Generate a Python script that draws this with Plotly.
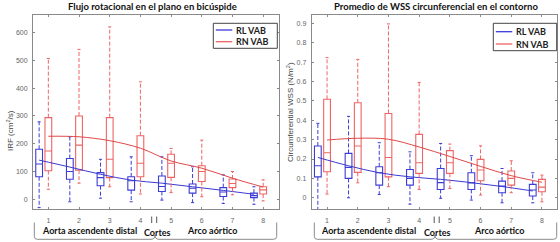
import plotly.graph_objects as go

W, H = 560, 242
slices = [1, 2, 3, 4, 5, 6, 7, 8]
tick_text = ["1", "2", "3", "4", "5", "6", "7", "8"]

# ---- Left panel: IRF (cm^2/s)
irf_rl_lo = [-30, -9, 4, -9, -3, -12, -15, -18]
irf_rl_q1 = [81, 72, 49, 33, 28, 22, 10, 6]
irf_rl_med = [127, 100, 78, 67, 46, 40, 26, 13]
irf_rl_q3 = [180, 147, 96, 81, 84, 55, 42, 22]
irf_rl_hi = [279, 225, 144, 153, 153, 117, 88, 45]
irf_rn_lo = [36, 58, 45, 19, 24, 9, 16, -6]
irf_rn_q1 = [103, 105, 78, 81, 79, 64, 42, 19]
irf_rn_med = [174, 195, 144, 130, 130, 100, 57, 34]
irf_rn_q3 = [294, 300, 294, 229, 162, 121, 73, 45]
irf_rn_hi = [507, 540, 621, 423, 183, 213, 100, 70]
irf_rl_fit = [141, 116, 90, 69, 58, 45, 32, 18]
irf_rn_fit = [227, 225, 211, 184, 138, 112, 76, 44]
irf_ticks = [0, 100, 200, 300, 400, 500, 600]

# ---- Right panel: circumferential WSS (N/m^2)
wss_rl_lo = [-0.07, 0.0, 0.017, -0.033, -0.003, -0.012, -0.026, -0.026]
wss_rl_q1 = [0.108, 0.100, 0.065, 0.065, 0.043, 0.043, 0.026, 0.009]
wss_rl_med = [0.165, 0.157, 0.129, 0.100, 0.078, 0.077, 0.060, 0.040]
wss_rl_q3 = [0.267, 0.229, 0.160, 0.146, 0.151, 0.129, 0.086, 0.069]
wss_rl_hi = [0.384, 0.420, 0.284, 0.237, 0.280, 0.217, 0.151, 0.129]
wss_rn_lo = [0.019, 0.077, 0.057, 0.043, 0.048, 0.014, 0.026, -0.021]
wss_rn_q1 = [0.134, 0.131, 0.108, 0.126, 0.126, 0.088, 0.065, 0.031]
wss_rn_med = [0.232, 0.267, 0.208, 0.181, 0.181, 0.143, 0.100, 0.055]
wss_rn_q3 = [0.508, 0.490, 0.435, 0.327, 0.243, 0.198, 0.138, 0.095]
wss_rn_hi = [0.723, 0.714, 0.897, 0.595, 0.277, 0.268, 0.191, 0.117]
wss_rl_fit = [0.208, 0.165, 0.129, 0.108, 0.095, 0.078, 0.058, 0.035]
wss_rn_fit = [0.298, 0.307, 0.302, 0.262, 0.213, 0.162, 0.114, 0.080]
wss_ticks = [0, 0.1, 0.2, 0.3, 0.4, 0.5, 0.6, 0.7, 0.8, 0.9]
wss_tick_text = ["0", "0.1", "0.2", "0.3", "0.4", "0.5", "0.6", "0.7", "0.8", "0.9"]

titles = ["Flujo rotacional en el plano en bicúspide",
          "Promedio de WSS circunferencial en el contorno"]
ylabels = ["IRF (cm<sup>2</sup>/s)", "Circumferential WSS (N/m<sup>2</sup>)"]
series_names = ["RL VAB", "RN VAB"]

BLUE = "#3c3cd6"
RED = "#ee6464"
RL_OFF, RN_OFF = -0.3, 0.0
BOX_W = 0.22
CAP = 0.05


def px(x):
    return x / W


def py(y):
    return 1 - y / H


fig = go.Figure()


def add_group(xa, ya, off, lo, q1, med, q3, hi, fit, color, fitcolor):
    pos = [s + off for s in slices]
    fig.add_trace(go.Box(x=pos, q1=q1, median=med, q3=q3, lowerfence=q1, upperfence=q3,
                         width=BOX_W, whiskerwidth=0, line=dict(color=color, width=1.1),
                         fillcolor="rgba(0,0,0,0)", boxpoints=False, showlegend=False,
                         xaxis=xa, yaxis=ya, hoverinfo="skip"))
    wx, wy, cx, cy = [], [], [], []
    for p, a, b, c, d in zip(pos, lo, q1, q3, hi):
        wx += [p, p, None, p, p, None]
        wy += [c, d, None, b, a, None]
        cx += [p - CAP, p + CAP, None, p - CAP, p + CAP, None]
        cy += [d, d, None, a, a, None]
    fig.add_trace(go.Scatter(x=wx, y=wy, mode="lines", line=dict(color=color, width=1, dash="4px,2px"),
                             showlegend=False, xaxis=xa, yaxis=ya, hoverinfo="skip"))
    fig.add_trace(go.Scatter(x=cx, y=cy, mode="lines", line=dict(color=color, width=1),
                             showlegend=False, xaxis=xa, yaxis=ya, hoverinfo="skip"))
    fig.add_trace(go.Scatter(x=pos, y=fit, mode="lines", line=dict(color=fitcolor, width=1, shape="spline"),
                             showlegend=False, xaxis=xa, yaxis=ya, hoverinfo="skip"))


add_group("x", "y", RL_OFF, irf_rl_lo, irf_rl_q1, irf_rl_med, irf_rl_q3, irf_rl_hi, irf_rl_fit, BLUE, "#3a3ad0")
add_group("x", "y", RN_OFF, irf_rn_lo, irf_rn_q1, irf_rn_med, irf_rn_q3, irf_rn_hi, irf_rn_fit, RED, "#e04848")
add_group("x2", "y2", RL_OFF, wss_rl_lo, wss_rl_q1, wss_rl_med, wss_rl_q3, wss_rl_hi, wss_rl_fit, BLUE, "#3a3ad0")
add_group("x2", "y2", RN_OFF, wss_rn_lo, wss_rn_q1, wss_rn_med, wss_rn_q3, wss_rn_hi, wss_rn_fit, RED, "#e04848")

TICKFONT = dict(family="Liberation Sans, Arial, sans-serif", size=7, color="#666")
common_x = dict(range=[0.5, 8.5], tickvals=slices, ticktext=tick_text, showgrid=False, zeroline=False,
                showline=True, mirror="ticks", linecolor="#8a8a8a", linewidth=1, ticks="inside",
                ticklen=2, tickcolor="#8a8a8a", tickfont=TICKFONT, ticklabelstandoff=5)
common_y = dict(showgrid=False, zeroline=False, showline=True, mirror="ticks", linecolor="#8a8a8a",
                linewidth=1, ticks="inside", ticklen=2, tickcolor="#8a8a8a", tickfont=TICKFONT,
                ticklabelstandoff=3)

ydom = [py(209), py(15)]
fig.update_layout(
    width=W, height=H, margin=dict(l=0, r=0, t=0, b=0),
    paper_bgcolor="white", plot_bgcolor="white", boxmode="overlay", showlegend=False,
    xaxis=dict(domain=[px(33), px(278.5)], anchor="y", **common_x),
    yaxis=dict(domain=ydom, anchor="x", range=[-35, 663.7], tickvals=irf_ticks, **common_y),
    xaxis2=dict(domain=[px(311.7), px(557.3)], anchor="y2", **common_x),
    yaxis2=dict(domain=ydom, anchor="x2", range=[-0.058, 0.943], tickvals=wss_ticks,
                ticktext=wss_tick_text, **common_y),
)

BOLD = "Lato, Open Sans, sans-serif"
ann = []


def text(x, y, s, size=8.5, color="#222", bold=True, angle=0, family=BOLD):
    ann.append(dict(x=px(x), y=py(y), xref="paper", yref="paper", text=("<b>%s</b>" % s) if bold else s,
                    showarrow=False, xanchor="center", yanchor="middle", textangle=angle,
                    font=dict(family=family, size=size, color=color)))


shapes = []
panels = [
    dict(tc=152.5, ylx=10, yly=131, aorta=89.5, cortes=157, arco=211.7, bars=154.2,
         bl=34.3, bm=155, br=276.7, leg=(213.3, 23.3, 277.3, 48.3), ly=(30, 41.7)),
    dict(tc=435.5, ylx=290, yly=112, aorta=368, cortes=437, arco=498.7, bars=436.7,
         bl=314.3, bm=435, br=556.7, leg=(493.3, 23.3, 556.7, 50.7), ly=(31.7, 44)),
]
legend_colors = [BLUE, RED]
for i, P in enumerate(panels):
    text(P["tc"], 6.5, titles[i], size=9.5, color="#111")
    text(P["ylx"], P["yly"], ylabels[i], size=8, color="#444", bold=False, angle=-90,
         family="Liberation Sans, Arial, sans-serif")
    text(P["aorta"], 230, "Aorta ascendente distal", size=9, color="#111")
    text(P["cortes"], 232.5, "Cortes", size=9, color="#111")
    text(P["arco"], 230, "Arco aórtico", size=9, color="#111")
    for dx in (-2.5, 2.5):
        shapes.append(dict(type="line", xref="paper", yref="paper", x0=px(P["bars"] + dx), x1=px(P["bars"] + dx),
                           y0=py(223), y1=py(216.5), line=dict(color="#555", width=1)))
    bl, bm, br = P["bl"], P["bm"], P["br"]
    path = ("M {a},{b} L {a},{c} Q {a},{d} {e},{d} L {f},{d} Q {g},{d} {g},{h} "
            "Q {g},{d} {i},{d} L {j},{d} Q {br},{d} {br},{c} L {br},{b}").format(
        a=bl, b=222.5, c=236.5, d=239.3, e=bl + 3, f=bm - 4, g=bm, h=235, i=bm + 4, j=br - 3, br=br)
    toks = path.split()
    out = []
    for t in toks:
        if "," in t:
            xs, ys = t.split(",")
            out.append("%.5f,%.5f" % (px(float(xs)), py(float(ys))))
        else:
            out.append(t)
    shapes.append(dict(type="path", xref="paper", yref="paper", path=" ".join(out),
                       line=dict(color="#8a8a8a", width=1)))
    x0, y0, x1, y1 = P["leg"]
    shapes.append(dict(type="rect", xref="paper", yref="paper", x0=px(x0), x1=px(x1), y0=py(y1), y1=py(y0),
                       line=dict(color="#444", width=1), fillcolor="white"))
    for k in range(2):
        yy = P["ly"][k]
        shapes.append(dict(type="line", xref="paper", yref="paper", x0=px(x0 + 2.5), x1=px(x0 + 19),
                           y0=py(yy), y1=py(yy), line=dict(color=legend_colors[k], width=1.3)))
        ann.append(dict(x=px(x0 + 20.5), y=py(yy), xref="paper", yref="paper", text="<b>%s</b>" % series_names[k],
                        showarrow=False, xanchor="left", yanchor="middle",
                        font=dict(family=BOLD, size=9, color="#222")))

fig.update_layout(annotations=ann, shapes=shapes)
fig.write_html("out.html", config={"displayModeBar": False},
               post_script="document.body.style.margin='0';document.body.style.overflow='hidden';")
